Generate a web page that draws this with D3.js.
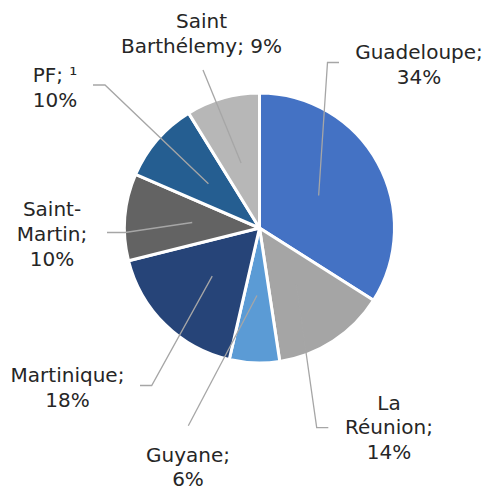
<!DOCTYPE html>
<html>
<head>
<meta charset="utf-8">
<script src="https://cdn.jsdelivr.net/npm/d3@7"></script>
<style>
  body { margin: 0; background: #fff; }
  .sliceLabel { font-family: "DejaVu Sans", sans-serif; font-size: 20px; fill: #262626; }
</style>
</head>
<body>
<div id="chart"></div>
<script>
// data (labels show rounded %)
var categories = ["Guadeloupe", "La Réunion", "Guyane", "Martinique", "Saint-Martin", "PF", "Saint Barthélemy"];
var values = [34.0, 13.6, 6.0, 17.5, 10.4, 9.7, 8.8];
var labelLines = [
    ["Guadeloupe;", "{v}"],
    ["La", "Réunion;", "{v}"],
    ["Guyane;", "{v}"],
    ["Martinique;", "{v}"],
    ["Saint-", "Martin;", "{v}"],
    ["PF; ¹", "{v}"],
    ["Saint", "Barthélemy; {v}"]
];
var sliceColors = ["#4472C4", "#A5A5A5", "#5B9BD5", "#264478", "#636363", "#255E91", "#B7B7B7"];

// svg size
var svgWidth = 492;
var svgHeight = 490;
var cx = 259.5;
var cy = 228;
var radius = 135;
var lineHeight = 24.8;

// label placement (x = centre of text, y = first baseline) + leader line route
var labelLayout = [
    { x: 419, y: 59, route: [[327.5, 62.5], [339, 62.5]] },
    { x: 389, y: 409.5, route: [[316.7, 427.7], [328.3, 427.7]] },
    { x: 188, y: 461.5, route: [[188.3, 425.7]] },
    { x: 67.5, y: 381.7, route: [[151.7, 385.5], [140, 385.5]] },
    { x: 52, y: 216, route: [[125, 232.5], [107, 232.5]] },
    { x: 55, y: 82, route: [[105, 85], [93, 85]] },
    { x: 201.5, y: 28.3, route: [[203, 70]] }
];

var svg = d3.select("#chart")
    .append("svg")
    .attr("width", svgWidth)
    .attr("height", svgHeight);

var color = d3.scaleOrdinal()
    .domain(categories)
    .range(sliceColors);

var pie = d3.pie()
    .sort(null)
    .value(d => d.value);

var arc = d3.arc()
    .innerRadius(0)
    .outerRadius(radius);

var pieData = pie(categories.map((c, i) => ({ name: c, value: values[i], idx: i })));

var pieGroup = svg.append("g")
    .attr("transform", `translate(${cx}, ${cy})`);

// slices
pieGroup.selectAll("path.slice")
    .data(pieData)
    .enter()
    .append("path")
    .attr("class", "slice")
    .attr("d", arc)
    .attr("fill", d => color(d.data.name))
    .attr("stroke", "#ffffff")
    .attr("stroke-width", 3)
    .attr("stroke-linejoin", "round");

// leader lines, from slice centroid to the label
var line = d3.line();
svg.selectAll("path.leader")
    .data(pieData)
    .enter()
    .append("path")
    .attr("class", "leader")
    .attr("d", function(d) {
        var c = arc.centroid(d);
        var pts = [[cx + c[0], cy + c[1]]].concat(labelLayout[d.data.idx].route);
        return line(pts);
    })
    .attr("fill", "none")
    .attr("stroke", "#A6A6A6")
    .attr("stroke-width", 1.3);

// labels
var labels = svg.selectAll("text.sliceLabel")
    .data(pieData)
    .enter()
    .append("text")
    .attr("class", "sliceLabel")
    .attr("text-anchor", "middle")
    .attr("x", d => labelLayout[d.data.idx].x)
    .attr("y", d => labelLayout[d.data.idx].y);

labels.each(function(d) {
    var pct = Math.round(d.data.value) + "%";
    var lay = labelLayout[d.data.idx];
    d3.select(this).selectAll("tspan")
        .data(labelLines[d.data.idx])
        .enter()
        .append("tspan")
        .attr("x", lay.x)
        .attr("y", (t, j) => lay.y + j * lineHeight)
        .text(t => t.replace("{v}", pct));
});
</script>
</body>
</html>
